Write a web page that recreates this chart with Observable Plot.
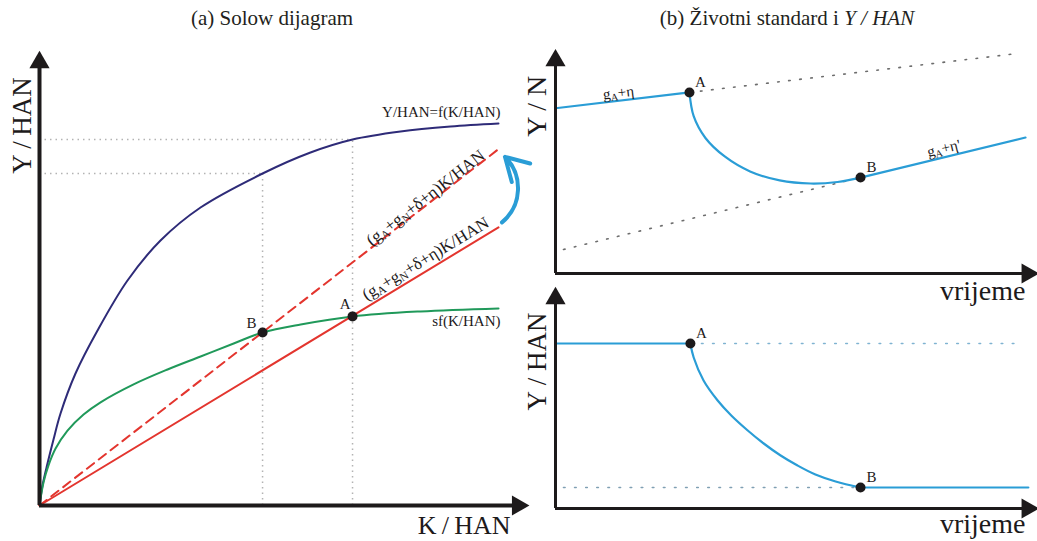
<!DOCTYPE html>
<html><head><meta charset="utf-8">
<script src="https://cdn.jsdelivr.net/npm/d3@7"></script>
<script src="https://cdn.jsdelivr.net/npm/@observablehq/plot@0.6"></script>
<style>
body{margin:0;background:#fff;font-family:"Liberation Serif",serif;color:#231f20;}
#wrap{position:relative;width:1037px;height:541px;overflow:hidden;background:#fff;}
.title{position:absolute;font-size:21px;white-space:nowrap;transform:translateX(-50%);line-height:24px;}
.panel{position:absolute;}
</style></head><body>
<div id="wrap">
  <div class="title" style="left:272px;top:6px">(a) Solow dijagram</div>
  <div class="title" style="left:787px;top:6px">(b) Životni standard i <i>Y / HAN</i></div>
  <div class="panel" id="pa" style="left:0px;top:40px"></div>
  <div class="panel" id="pb" style="left:530px;top:40px"></div>
  <div class="panel" id="pc" style="left:530px;top:280px"></div>
</div>
<script>
// ---------- (a) Solow diagram data (K/HAN, Y/HAN in arbitrary units) ----------
const fK  = [0, 0.065, 0.174, 0.305, 0.458, 0.784, 1.264, 1.917, 2.636, 3.508, 4.86, 5.904, 6.82, 7.865, 8.954, 10];
const fY  = [0, 0.524, 1.099, 1.728, 2.408, 3.455, 4.581, 5.890, 6.937, 7.801, 8.691, 9.241, 9.581, 9.791, 9.921, 10.0];
const sfK = [0, 0.087, 0.196, 0.35, 0.61, 0.96, 1.33, 2.05, 2.79, 3.51, 4.23, 4.86, 5.69, 6.82, 8.30, 10];
const sfY = [0, 0.60, 1.05, 1.49, 1.96, 2.38, 2.70, 3.17, 3.56, 3.90, 4.24, 4.53, 4.74, 4.95, 5.08, 5.16];
const lineK = [0, 10];
const oldBreakEvenY = [0, 7.28];   // (gA+gN+δ+η)K/HAN  (solid)
const newBreakEvenY = [0, 9.33];   // (gA+gN+δ+η)K/HAN  (dashed, higher)
const steadyNames = ["A", "B"];
const steadyK = [6.82, 4.86];
const steadyY = [4.95, 4.53];
const axisAEnd = {K: 10.42, Y: 11.6};

// ---------- (b) top: Y/N over time ----------
const ynPreT = [0, 2.85],            ynPreY = [7.51, 8.23];
const ynOldTrendT = [2.85, 9.83],    ynOldTrendY = [8.23, 10.0];
const ynTransT = [2.85, 2.94, 3.19, 3.60, 4.14, 4.77, 5.43, 6.0, 6.49];
const ynTransY = [8.23, 7.15, 6.16, 5.32, 4.64, 4.23, 4.09, 4.16, 4.36];
const ynPostT = [6.49, 10],          ynPostY = [4.36, 6.18];
const ynNewTrendT = [0.17, 6.49],    ynNewTrendY = [1.09, 4.36];
const axisBEnd = {t: 10.04, Y: 9.68};

// ---------- (b) bottom: Y/HAN over time ----------
const yhPreT = [0, 2.87],            yhPreY = [8.25, 8.25];
const yhOldLevelT = [2.87, 9.89],    yhOldLevelY = [8.25, 8.25];
const yhTransT = [2.87, 2.94, 3.15, 3.45, 3.74, 4.09, 4.43, 4.79, 5.15, 5.53, 5.96, 6.49];
const yhTransY = [8.25, 7.55, 6.40, 5.40, 4.65, 3.90, 3.25, 2.65, 2.15, 1.70, 1.35, 1.05];
const yhPostT = [6.49, 10.06],       yhPostY = [1.05, 1.05];
const yhNewLevelT = [0.17, 6.49],    yhNewLevelY = [1.05, 1.05];
const axisCEnd = {t: 10.04, Y: 10.5};

// colours
const INK = "#1d1a1b", NAVY = "#2e2b78", GREEN = "#20995a", RED = "#e3352e", BLUE = "#2a9dd6";
const SERIF = "Liberation Serif";

const zip = (xs, ys, xn, yn) => xs.map((v, i) => ({[xn]: v, [yn]: ys[i]}));
const style = {background: "transparent", overflow: "visible", fontFamily: "Liberation Serif, serif", color: INK};
const T = (o) => ({fill: INK, fontFamily: SERIF, ...o});

function subscripts(svg) {
  svg.querySelectorAll("text").forEach(t => {
    const s = t.textContent;
    if (!s.includes("_")) return;
    t.textContent = "";
    const parts = s.split(/_(.)/);
    let shifted = false;
    parts.forEach((p, i) => {
      if (!p) return;
      const ts = document.createElementNS("http://www.w3.org/2000/svg", "tspan");
      ts.textContent = p;
      if (i % 2 === 1) { ts.setAttribute("font-size", "68%"); ts.setAttribute("dy", "2.5"); shifted = true; }
      else if (shifted) { ts.setAttribute("dy", "-2.5"); shifted = false; }
      t.appendChild(ts);
    });
  });
  return svg;
}

// ================= Panel (a) =================
{
  const xr = [39, 498], yr = [465, 83];
  const pxK = (xr[1] - xr[0]) / 10, pxY = (yr[0] - yr[1]) / 10;
  const fData = zip(fK, fY, "K", "Y");
  const sfData = zip(sfK, sfY, "K", "Y");
  const oldLine = zip(lineK, oldBreakEvenY, "K", "Y");
  const newLine = zip(lineK, newBreakEvenY, "K", "Y");
  const pts = steadyNames.map((n, i) => ({name: n, K: steadyK[i], Y: steadyY[i]}));
  const guides = steadyK.map(k => ({K: k, Y: fY[fK.indexOf(k)]}));
  const slopeOld = oldBreakEvenY[1] / lineK[1], slopeNew = newBreakEvenY[1] / lineK[1];
  const angOld = -Math.atan(slopeOld * pxY / pxK) * 180 / Math.PI;
  const angNew = -Math.atan(slopeNew * pxY / pxK) * 180 / Math.PI;
  const labK = 8.41;
  const fLast = fData[fData.length - 1], sfLast = sfData[sfData.length - 1];

  const p = Plot.plot({
    width: 535, height: 501, style,
    x: {domain: [0, 10], range: xr, axis: null},
    y: {domain: [0, 10], range: yr, axis: null},
    marks: [
      Plot.ruleY(guides, {y: "Y", x1: 0, x2: "K", stroke: "#b3b3b3", strokeWidth: 1.5, strokeDasharray: "1.5,4"}),
      Plot.ruleX(guides, {x: "K", y1: 0, y2: "Y", stroke: "#b3b3b3", strokeWidth: 1.5, strokeDasharray: "1.5,4"}),
      Plot.line(fData, {x: "K", y: "Y", curve: "catmull-rom", stroke: NAVY, strokeWidth: 2}),
      Plot.line(sfData, {x: "K", y: "Y", curve: "catmull-rom", stroke: GREEN, strokeWidth: 2}),
      Plot.line(oldLine, {x: "K", y: "Y", stroke: RED, strokeWidth: 2}),
      Plot.line(newLine, {x: "K", y: "Y", stroke: RED, strokeWidth: 2, strokeDasharray: "9,6"}),
      // axes
      Plot.ruleX([0], {y1: 0, y2: axisAEnd.Y, stroke: INK, strokeWidth: 4}),
      Plot.ruleY([0], {x1: 0, x2: axisAEnd.K, stroke: INK, strokeWidth: 4}),
      Plot.dot([{K: 0, Y: axisAEnd.Y, r: 0}, {K: axisAEnd.K, Y: 0, r: 90}], {x: "K", y: "Y", symbol: "triangle", r: 7.5, fill: INK, rotate: "r"}),
      Plot.text(["Y\u2009/\u2009HAN"], T({x: 0, y: fLast.Y, dx: -17, dy: 2, rotate: -90, fontSize: 27})),
      Plot.text(["K\u2009/\u2009HAN"], T({x: 10, y: 0, dx: 12, dy: 20, textAnchor: "end", fontSize: 26})),
      // curve labels
      Plot.text([fLast], T({x: "K", y: "Y", text: () => "Y/HAN=f(K/HAN)", textAnchor: "end", dx: 2, dy: -11, fontSize: 15})),
      Plot.text([sfLast], T({x: "K", y: "Y", text: () => "sf(K/HAN)", textAnchor: "end", dx: 2, dy: 13, fontSize: 15})),
      Plot.text([{K: labK, Y: slopeNew * labK}], T({x: "K", y: "Y", text: () => "(g_A+g_N+δ+η)K/HAN", rotate: angNew, dy: -8, fontSize: 17})),
      Plot.text([{K: labK, Y: slopeOld * labK}], T({x: "K", y: "Y", text: () => "(g_A+g_N+δ+η)K/HAN", rotate: angOld, dy: -13, fontSize: 17})),
      // shift arrow
      Plot.arrow([{x1: lineK[1], y1: oldBreakEvenY[1], x2: lineK[1], y2: newBreakEvenY[1]}],
        {x1: "x1", y1: "y1", x2: "x2", y2: "y2", bend: -62, stroke: BLUE, strokeWidth: 4, headLength: 12, insetStart: 9, insetEnd: 13, dx: -4}),
      // steady states
      Plot.dot(pts, {x: "K", y: "Y", r: 5, fill: INK}),
      Plot.text(pts, T({x: "K", y: "Y", text: "name", fontSize: 15, filter: d => d.name === "A", textAnchor: "end", dx: -2, dy: -12})),
      Plot.text(pts, T({x: "K", y: "Y", text: "name", fontSize: 15, filter: d => d.name === "B", textAnchor: "end", dx: -6, dy: -9}))
    ]
  });
  document.getElementById("pa").appendChild(subscripts(p));
}

// ================= Panel (b) top =================
{
  const xr = [25, 495], yr = [233, 13];
  const pxT = (xr[1] - xr[0]) / 10, pxY = (yr[0] - yr[1]) / 10;
  const pre = zip(ynPreT, ynPreY, "t", "Y");
  const post = zip(ynPostT, ynPostY, "t", "Y");
  const slopePre = (ynPreY[1] - ynPreY[0]) / (ynPreT[1] - ynPreT[0]);
  const slopePost = (ynPostY[1] - ynPostY[0]) / (ynPostT[1] - ynPostT[0]);
  const labPreT = 1.34, labPostT = 8.26;
  const A = pre[1], B = post[0];
  const p = Plot.plot({
    width: 507, height: 265, style,
    x: {domain: [0, 10], range: xr, axis: null},
    y: {domain: [0, 10], range: yr, axis: null},
    marks: [
      Plot.line(zip(ynOldTrendT, ynOldTrendY, "t", "Y"), {x: "t", y: "Y", stroke: "#6d6d6d", strokeWidth: 1.6, strokeDasharray: "1.6,9.5"}),
      Plot.line(zip(ynNewTrendT, ynNewTrendY, "t", "Y"), {x: "t", y: "Y", stroke: "#6d6d6d", strokeWidth: 1.6, strokeDasharray: "1.6,9.5"}),
      Plot.line(pre, {x: "t", y: "Y", stroke: BLUE, strokeWidth: 2.2}),
      Plot.line(zip(ynTransT, ynTransY, "t", "Y"), {x: "t", y: "Y", curve: "catmull-rom", stroke: BLUE, strokeWidth: 2.2}),
      Plot.line(post, {x: "t", y: "Y", stroke: BLUE, strokeWidth: 2.2}),
      Plot.ruleX([0], {y1: 0, y2: axisBEnd.Y, stroke: INK, strokeWidth: 3}),
      Plot.ruleY([0], {x1: 0, x2: axisBEnd.t, stroke: INK, strokeWidth: 3}),
      Plot.dot([{t: 0, Y: axisBEnd.Y, r: 0}, {t: axisBEnd.t, Y: 0, r: 90}], {x: "t", y: "Y", symbol: "triangle", r: 7.5, fill: INK, rotate: "r"}),
      Plot.text(["Y / N"], T({x: 0, y: ynPreY[0], dx: -18, dy: -2, rotate: -90, fontSize: 28})),
      Plot.text(["vrijeme"], T({x: 10, y: 0, dy: 18, textAnchor: "end", fontSize: 28})),
      Plot.text([{t: labPreT, Y: ynPreY[0] + slopePre * labPreT}], T({x: "t", y: "Y", text: () => "g_A+η", rotate: -Math.atan(slopePre * pxY / pxT) * 180 / Math.PI, dy: -8, fontSize: 15})),
      Plot.text([{t: labPostT, Y: ynPostY[0] + slopePost * (labPostT - ynPostT[0])}], T({x: "t", y: "Y", text: () => "g_A+η'", rotate: -Math.atan(slopePost * pxY / pxT) * 180 / Math.PI, dy: -9, fontSize: 15})),
      Plot.dot([A, B], {x: "t", y: "Y", r: 5, fill: INK}),
      Plot.text([{...A, n: "A"}, {...B, n: "B"}], T({x: "t", y: "Y", text: "n", dx: 11, dy: -10, fontSize: 15}))
    ]
  });
  document.getElementById("pb").appendChild(subscripts(p));
}

// ================= Panel (b) bottom =================
{
  const xr = [25, 495], yr = [228, 28];
  const pre = zip(yhPreT, yhPreY, "t", "Y");
  const post = zip(yhPostT, yhPostY, "t", "Y");
  const A = pre[1], B = post[0];
  const p = Plot.plot({
    width: 507, height: 261, style,
    x: {domain: [0, 10], range: xr, axis: null},
    y: {domain: [0, 10], range: yr, axis: null},
    marks: [
      Plot.line(zip(yhOldLevelT, yhOldLevelY, "t", "Y"), {x: "t", y: "Y", stroke: "#7fb3d1", strokeWidth: 1.6, strokeDasharray: "1.6,9.5"}),
      Plot.line(zip(yhNewLevelT, yhNewLevelY, "t", "Y"), {x: "t", y: "Y", stroke: "#7f9fb3", strokeWidth: 1.6, strokeDasharray: "1.6,9.5"}),
      Plot.line(pre, {x: "t", y: "Y", stroke: BLUE, strokeWidth: 2.2}),
      Plot.line(zip(yhTransT, yhTransY, "t", "Y"), {x: "t", y: "Y", curve: "catmull-rom", stroke: BLUE, strokeWidth: 2.2}),
      Plot.line(post, {x: "t", y: "Y", stroke: BLUE, strokeWidth: 2.2}),
      Plot.ruleX([0], {y1: 0, y2: axisCEnd.Y, stroke: INK, strokeWidth: 3}),
      Plot.ruleY([0], {x1: 0, x2: axisCEnd.t, stroke: INK, strokeWidth: 3}),
      Plot.dot([{t: 0, Y: axisCEnd.Y, r: 0}, {t: axisCEnd.t, Y: 0, r: 90}], {x: "t", y: "Y", symbol: "triangle", r: 7.5, fill: INK, rotate: "r"}),
      Plot.text(["Y / HAN"], T({x: 0, y: yhPreY[0], dx: -18, dy: 18, rotate: -90, fontSize: 27})),
      Plot.text(["vrijeme"], T({x: 10, y: 0, dy: 16, textAnchor: "end", fontSize: 28})),
      Plot.dot([A, B], {x: "t", y: "Y", r: 5, fill: INK}),
      Plot.text([{...A, n: "A"}, {...B, n: "B"}], T({x: "t", y: "Y", text: "n", dx: 11, dy: -10, fontSize: 15}))
    ]
  });
  document.getElementById("pc").appendChild(p);
}
</script>
</body></html>
